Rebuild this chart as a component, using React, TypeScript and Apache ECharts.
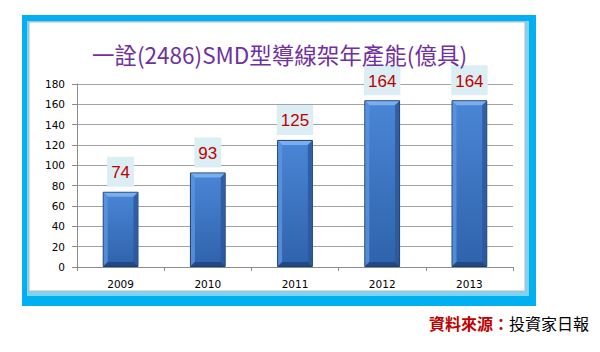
import React, { useEffect, useRef } from "react";
import * as echarts from "echarts";

const categories = ["2009", "2010", "2011", "2012", "2013"];
const capacity = [74, 93, 125, 164, 164];
const yMin = 0;
const yMax = 180;
const yInterval = 20;
const titleText = "一詮(2486)SMD型導線架年產能(億具)";
const sourceLabel = "資料來源：";
const sourceName = "投資家日報";

export default function App() {
  const ref = useRef<HTMLDivElement>(null);
  useEffect(() => {
    if (!ref.current) return;
    const chart = echarts.init(ref.current, null, { renderer: "svg" });
    const barRatio = 0.41;
    const option: any = {
      animation: false,
      backgroundColor: "#ffffff",
      grid: { left: 77, right: 87, top: 84, bottom: 85, containLabel: false },
      xAxis: {
        type: "category",
        data: categories,
        axisLine: { show: true, lineStyle: { color: "#8c8c8c", width: 1 } },
        axisTick: { show: true, length: 4, lineStyle: { color: "#8c8c8c" }, inside: false },
        axisLabel: { color: "#000", fontSize: 10.5, fontFamily: "DejaVu Sans", margin: 11 },
      },
      yAxis: {
        type: "value",
        min: yMin,
        max: yMax,
        interval: yInterval,
        axisLine: { show: true, lineStyle: { color: "#8c8c8c", width: 1 } },
        axisTick: { show: true, length: 5, lineStyle: { color: "#8c8c8c" } },
        axisLabel: { color: "#000", fontSize: 10.5, fontFamily: "DejaVu Sans", margin: 12 },
        splitLine: { show: true, lineStyle: { color: "#a3a3a3", width: 1 } },
      },
      graphic: [
        { type: "rect", z: -10, silent: true, shape: { x: 22, y: 15, width: 514, height: 291 }, style: { fill: "#00b0f0" } },
        { type: "rect", z: -9, silent: true, shape: { x: 27, y: 21, width: 502, height: 275 }, style: { fill: "#7fd3f5" } },
        { type: "rect", z: -8, silent: true, shape: { x: 29, y: 22, width: 496, height: 269 }, style: { fill: "#ffffff", stroke: "#b8b8b8", lineWidth: 1 } },
        {
          type: "text",
          z: 10,
          x: 279.5,
          y: 54,
          style: {
            text: titleText,
            fill: "#7030a0",
            fontSize: 22.5,
            lineHeight: 22,
            fontWeight: "normal",
            fontFamily: "Noto Sans CJK TC",
            align: "center",
            verticalAlign: "middle",
          },
        },
        {
          type: "text",
          z: 10,
          x: 589,
          y: 322.5,
          style: {
            text: "{a|" + sourceLabel + "}{b|" + sourceName + "}",
            align: "right",
            verticalAlign: "middle",
            rich: {
              a: { fill: "#c00000", fontSize: 16, fontWeight: "bold", fontFamily: "Noto Sans CJK TC" },
              b: { fill: "#000000", fontSize: 16, fontFamily: "Noto Sans CJK TC" },
            },
          },
        },
      ],
      series: [
        {
          type: "bar",
          data: capacity,
          barWidth: "41%",
          z: 2,
          itemStyle: {
            color: new echarts.graphic.LinearGradient(0, 0, 0, 1, [
              { offset: 0, color: "#4a86d6" },
              { offset: 1, color: "#2f62ab" },
            ]),
            borderColor: "#1c3f72",
            borderWidth: 1,
          },
          label: {
            show: true,
            position: "top",
            distance: 5,
            color: "#c00000",
            fontSize: 17,
            fontFamily: "Liberation Sans",
            backgroundColor: "#daeef3",
            padding: [8, 4, 6, 4],
            lineHeight: 16,
          },
        },
        {
          type: "custom",
          z: 3,
          silent: true,
          data: capacity.map((v, i) => [i, v]),
          renderItem: (params: any, api: any) => {
            const idx = api.value(0);
            const v = api.value(1);
            const top = api.coord([idx, v]);
            const base = api.coord([idx, 0]);
            const bw = api.size([1, 0])[0] * barRatio;
            const x0 = top[0] - bw / 2 + 1;
            const x1 = top[0] + bw / 2 - 1;
            const y0 = top[1] + 1;
            const y1 = base[1] - 1;
            const b = 4;
            return {
              type: "group",
              children: [
                {
                  type: "polygon",
                  shape: { points: [[x0, y0], [x1, y0], [x1 - b, y0 + b], [x0 + b, y0 + b]] },
                  style: { fill: "#7aaeec" },
                },
                {
                  type: "polygon",
                  shape: { points: [[x0, y0], [x0 + b, y0 + b], [x0 + b, y1 - b], [x0, y1]] },
                  style: { fill: "#5c95e0", opacity: 0.8 },
                },
                {
                  type: "polygon",
                  shape: { points: [[x1, y0], [x1 - b, y0 + b], [x1 - b, y1 - b], [x1, y1]] },
                  style: { fill: "#2a5798", opacity: 0.8 },
                },
                {
                  type: "polygon",
                  shape: { points: [[x0, y1], [x0 + b, y1 - b], [x1 - b, y1 - b], [x1, y1]] },
                  style: { fill: "#1f4a86" },
                },
              ],
            };
          },
        },
      ],
    };
    chart.setOption(option);
    return () => chart.dispose();
  }, []);
  return (
    <div
      ref={ref}
      style={{ position: "fixed", left: 0, top: 0, width: 600, height: 352 }}
    />
  );
}
